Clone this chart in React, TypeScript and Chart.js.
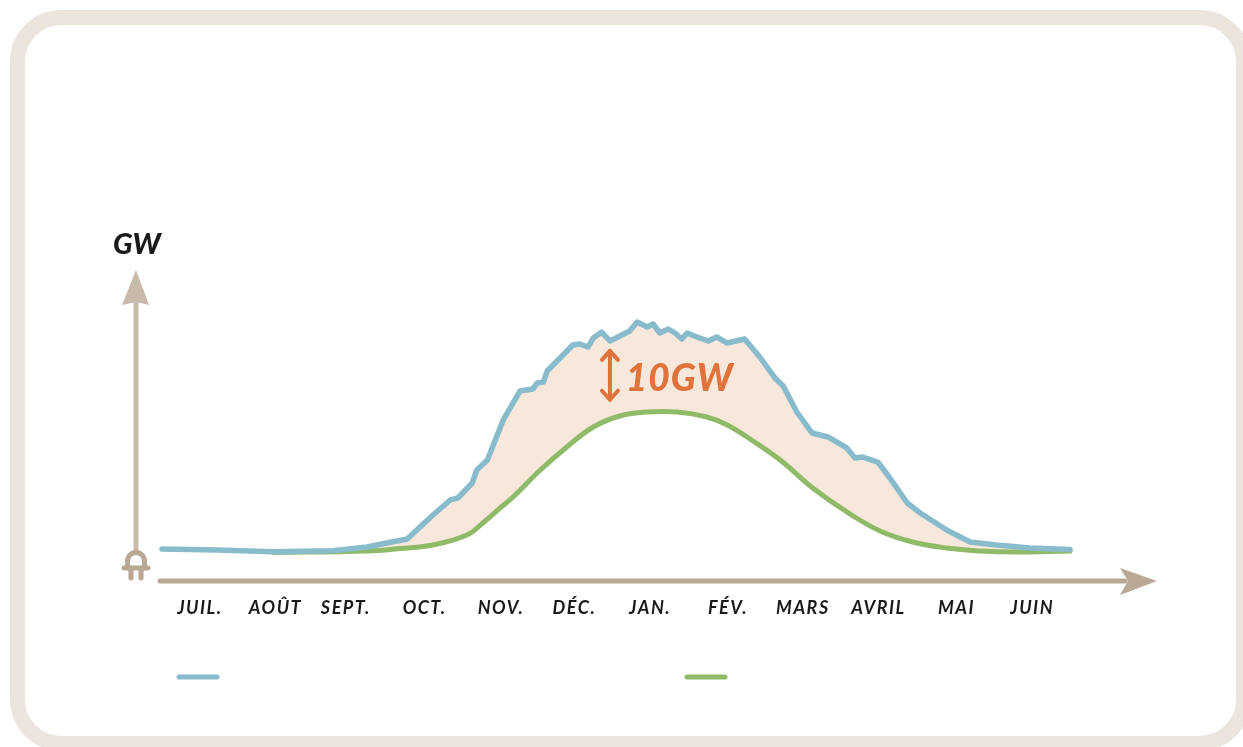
import React, { useEffect, useRef } from "react";
import { Chart, registerables } from "chart.js";

Chart.register(...registerables);

const months = ["JUIL.", "AOÛT", "SEPT.", "OCT.", "NOV.", "DÉC.", "JAN.", "FÉV.", "MARS", "AVRIL", "MAI", "JUIN"];
const tickPositions = [0.5, 1.5, 2.43, 3.47, 4.48, 5.45, 6.45, 7.48, 8.47, 9.47, 10.5, 11.5];

const blueX = [0, 0.73, 1.47, 2.26, 2.71, 2.97, 3.24, 3.58, 3.81, 3.91, 4.1, 4.16, 4.3, 4.51, 4.73, 4.9, 4.96, 5.04, 5.09, 5.43, 5.52, 5.63, 5.7, 5.81, 5.92, 6.18, 6.28, 6.41, 6.49, 6.58, 6.69, 6.78, 6.87, 6.94, 7.07, 7.22, 7.33, 7.47, 7.7, 7.9, 8.1, 8.21, 8.39, 8.59, 8.8, 9.05, 9.16, 9.26, 9.46, 9.62, 9.85, 10.02, 10.37, 10.68, 11.03, 11.47, 12];
const blueGW = [3.6, 3.49, 3.3, 3.41, 3.83, 4.28, 4.73, 7.43, 9.12, 9.34, 11.03, 12.49, 13.62, 18.12, 21.38, 21.61, 22.28, 22.39, 23.63, 26.56, 26.67, 26.33, 27.35, 28.02, 27.01, 28.13, 29.15, 28.58, 28.92, 27.91, 28.36, 27.91, 27.23, 27.91, 27.46, 27.01, 27.46, 26.78, 27.23, 25.21, 22.85, 21.94, 19.02, 16.66, 16.21, 14.97, 13.84, 13.95, 13.39, 11.59, 8.78, 7.65, 5.74, 4.39, 4.05, 3.71, 3.54];

const greenX = [1.47, 2.71, 3.15, 3.58, 4.03, 4.24, 4.47, 4.64, 5.0, 5.35, 5.7, 6.05, 6.41, 6.81, 7.2, 7.47, 7.81, 8.17, 8.6, 9.05, 9.49, 9.92, 10.37, 10.81, 11.25, 12];
const greenGW = [3.21, 3.38, 3.66, 4.05, 5.18, 6.53, 8.22, 9.45, 12.49, 15.08, 17.33, 18.57, 19.02, 19.02, 18.46, 17.56, 15.76, 13.62, 10.47, 7.77, 5.63, 4.39, 3.71, 3.38, 3.26, 3.38];

const BLUE = "#88bccd";
const GREEN = "#8fba68";
const FILL = "#f8e7db";
const ORANGE = "#e0723c";
const AXIS_Y = "#c9bbac";
const AXIS_X = "#b9a896";
const FRAME = "#ebe5de";
const FONT = "Lato";

function stroke(ctx: CanvasRenderingContext2D, pts: number[][], color: string, w: number) {
  ctx.beginPath();
  pts.forEach((p, i) => (i ? ctx.lineTo(p[0], p[1]) : ctx.moveTo(p[0], p[1])));
  ctx.strokeStyle = color;
  ctx.lineWidth = w;
  ctx.lineCap = "round";
  ctx.lineJoin = "round";
  ctx.stroke();
}

function poly(ctx: CanvasRenderingContext2D, pts: number[][], color: string) {
  ctx.beginPath();
  pts.forEach((p, i) => (i ? ctx.lineTo(p[0], p[1]) : ctx.moveTo(p[0], p[1])));
  ctx.closePath();
  ctx.fillStyle = color;
  ctx.fill();
}

const decor = {
  id: "decor",
  beforeDraw(chart: any) {
    const ctx = chart.ctx as any;
    ctx.save();
    ctx.beginPath();
    ctx.roundRect(17.5, 17.5, 1226, 726, 44);
    ctx.strokeStyle = FRAME;
    ctx.lineWidth = 15;
    ctx.stroke();

    // axes
    stroke(ctx, [[136, 300], [136, 552]], AXIS_Y, 5);
    poly(ctx, [[136, 270], [149, 305], [136, 302], [122, 305]], AXIS_Y);
    stroke(ctx, [[160, 581], [1125, 581]], AXIS_X, 5);
    poly(ctx, [[1157, 581], [1120, 568], [1128, 581], [1120, 595]], AXIS_X);

    // plug
    ctx.beginPath();
    ctx.arc(136, 561, 8.5, Math.PI, 0);
    ctx.moveTo(127.5, 561);
    ctx.lineTo(127.5, 567);
    ctx.moveTo(144.5, 561);
    ctx.lineTo(144.5, 567);
    ctx.strokeStyle = AXIS_X;
    ctx.lineWidth = 5;
    ctx.stroke();
    stroke(ctx, [[124, 568], [148, 568]], AXIS_X, 5);
    stroke(ctx, [[131, 568], [131, 578]], AXIS_X, 5);
    stroke(ctx, [[141, 568], [141, 578]], AXIS_X, 5);

    // legend keys
    stroke(ctx, [[179, 677], [217, 677]], BLUE, 5);
    stroke(ctx, [[687, 677], [725, 677]], GREEN, 5);

    // axis title
    ctx.fillStyle = "#1a1a1a";
    ctx.font = `italic 900 29px ${FONT}`;
    ctx.textAlign = "left";
    ctx.textBaseline = "alphabetic";
    ctx.fillText("GW", 113, 254);
    ctx.restore();
    ctx.letterSpacing = "1.5px";
  },
  afterDraw(chart: any) {
    const ctx = chart.ctx as any;
    const x = chart.scales.x;
    const y = chart.scales.y;
    ctx.save();
    const ax = x.getPixelForValue(5.92);
    const top = y.getPixelForValue(25.9);
    const bot = y.getPixelForValue(20.4);
    stroke(ctx, [[ax, top], [ax, bot]], ORANGE, 4);
    stroke(ctx, [[ax - 8, top + 9], [ax, top], [ax + 8, top + 9]], ORANGE, 4);
    stroke(ctx, [[ax - 8, bot - 9], [ax, bot], [ax + 8, bot - 9]], ORANGE, 4);
    ctx.fillStyle = ORANGE;
    ctx.font = `italic 900 37px ${FONT}`;
    ctx.letterSpacing = "1px";
    ctx.textAlign = "left";
    ctx.textBaseline = "alphabetic";
    ctx.fillText("10GW", x.getPixelForValue(6.13), y.getPixelForValue(21.4));
    ctx.restore();
  },
};

export default function App() {
  const ref = useRef<HTMLCanvasElement>(null);
  useEffect(() => {
    const chart = new Chart(ref.current!, {
      type: "line",
      plugins: [decor],
      data: {
        datasets: [
          {
            label: "Bleu",
            data: blueX.map((x, i) => ({ x, y: blueGW[i] })),
            borderColor: BLUE,
            borderWidth: 5.5,
            pointRadius: 0,
            tension: 0,
            clip: false,
            borderCapStyle: "round",
            borderJoinStyle: "round",
            fill: { target: 1, above: FILL, below: "rgba(0,0,0,0)" },
          },
          {
            label: "Vert",
            data: greenX.map((x, i) => ({ x, y: greenGW[i] })),
            borderColor: GREEN,
            borderWidth: 5,
            pointRadius: 0,
            tension: 0.4,
            clip: false,
            borderCapStyle: "round",
            fill: false,
          },
        ],
      } as any,
      options: {
        responsive: false,
        animation: false,
        layout: { padding: { left: 162, right: 173, top: 270, bottom: 126 } },
        plugins: {
          legend: { display: false },
          tooltip: { enabled: false },
          filler: { drawTime: "beforeDatasetsDraw" },
        },
        scales: {
          x: {
            type: "linear",
            min: 0,
            max: 12,
            afterFit: (s: any) => {
              s.height = 40;
            },
            afterBuildTicks: (s: any) => {
              s.ticks = tickPositions.map((value) => ({ value }));
            },
            grid: { display: false, drawTicks: false },
            border: { display: false },
            ticks: {
              autoSkip: false,
              maxRotation: 0,
              padding: 16,
              color: "#1a1a1a",
              font: { family: FONT, size: 18, style: "italic", weight: "700" },
              callback: (v: any) => months[tickPositions.indexOf(Number(v))],
            },
          },
          y: { display: false, min: 0, max: 35 },
        },
      } as any,
    });
    return () => chart.destroy();
  }, []);
  return (
    <canvas
      ref={ref}
      width={1243}
      height={747}
      style={{ position: "fixed", left: 0, top: 0, width: 1243, height: 747, background: "#fff" }}
    />
  );
}
